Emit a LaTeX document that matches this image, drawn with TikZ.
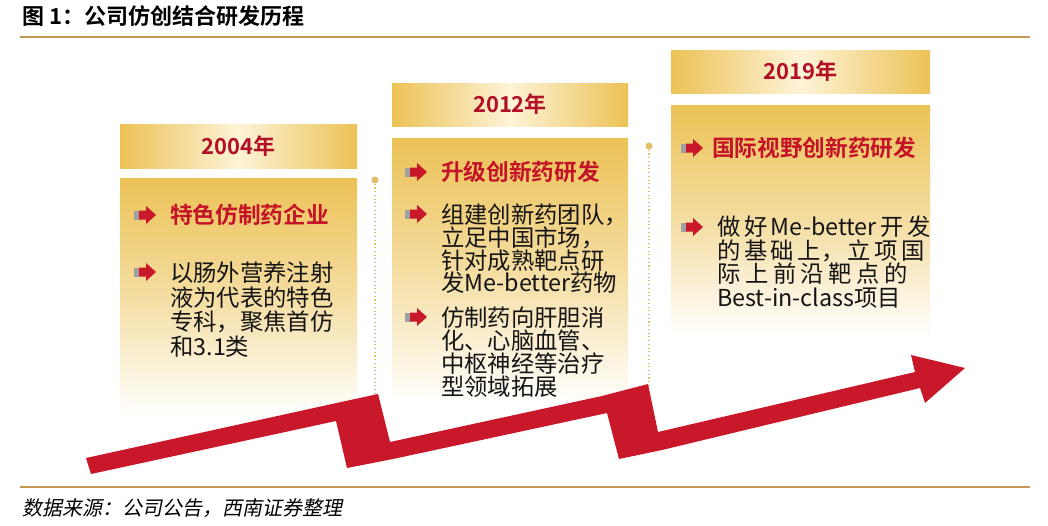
\documentclass[tikz,border=0pt]{standalone}
\usepackage{fontspec}
\newfontfamily\cjk{Noto Sans CJK SC}[BoldFont={Noto Sans CJK SC Bold}]
\newfontfamily\cjkit{Noto Sans CJK SC}[FakeSlant=0.2]
\definecolor{gold}{RGB}{236,194,86}
\definecolor{pale}{RGB}{253,243,214}
\definecolor{rulebrown}{RGB}{196,152,86}
\definecolor{dotgold}{RGB}{228,188,110}
\definecolor{arrowred}{RGB}{200,24,42}
\definecolor{yearred}{RGB}{178,16,40}
\definecolor{headred}{RGB}{196,18,40}
\definecolor{bulgray}{RGB}{160,160,160}

\begin{document}
\begin{tikzpicture}[x=0.75pt,y=-0.75pt,
    yearlbl/.style={font=\cjk\bfseries\fontsize{16.5}{17}\selectfont, text=yearred, inner sep=0},
    headlbl/.style={font=\cjk\bfseries\fontsize{17}{17}\selectfont, text=headred, anchor=base west, inner sep=0},
    body/.style={font=\cjk\fontsize{17.5}{18}\selectfont, text=black!92, anchor=base west, inner sep=0},
    bul/.pic={
        \fill[bulgray] (-12,-4.5) rectangle (-6,4.5);
        \fill[arrowred] (-7,-4.5) -- (0,-4.5) -- (0,-9) -- (10,0) -- (0,9) -- (0,4.5) -- (-7,4.5) -- cycle;
    }]
    \useasboundingbox (0,0) rectangle (1048,525);
    \fill[white] (0,0) rectangle (1048,525);

    % title and rules
    \node[anchor=base west, inner sep=0, font=\cjk\bfseries\fontsize{16.5}{17}\selectfont] (title) at (22,24) {图 1：公司仿创结合研发历程};
    \draw[rulebrown, line width=1.5pt] (20,37) -- (1030,37);
    \draw[rulebrown, line width=1.5pt] (20,487) -- (1030,487);
    \node[anchor=base west, inner sep=0, font=\cjkit\fontsize{15}{15}\selectfont] (source) at (22,515) {数据来源：公司公告，西南证券整理};

    % boxes
    \shade[left color=gold, right color=gold, middle color=pale] (120,124) rectangle (357,168);
    \shade[top color=gold, bottom color=white, middle color=gold!55] (120,178) rectangle (357,415);
    \shade[left color=gold, right color=gold, middle color=pale] (392,83) rectangle (628,126);
    \shade[top color=gold, bottom color=white, middle color=gold!55] (392,138) rectangle (628,405);
    \shade[left color=gold, right color=gold, middle color=pale] (671,50) rectangle (930,93);
    \shade[top color=gold, bottom color=white, middle color=gold!55] (671,105) rectangle (930,338);

    % dotted lines
    \draw[dotgold, dotted, line width=0.8pt] (375,180) -- (375,396);
    \fill[dotgold] (375,180) circle (3.5);
    \draw[dotgold, dotted, line width=0.8pt] (649,146) -- (649,386);
    \fill[dotgold] (649,146) circle (3.5);

    % years
    \node[yearlbl] (y2004) at (238.5,146) {2004年};
    \node[yearlbl] (y2012) at (510,104.5) {2012年};
    \node[yearlbl] (y2019) at (800.5,71.5) {2019年};

    % 2004
    \pic at (146,215) {bul};
    \node[headlbl] (h1) at (170,223.5) {特色仿制药企业};
    \pic at (146,272) {bul};
    \foreach \t [count=\i] in {以肠外营养注射, 液为代表的特色, 专科，聚焦首仿, 和3.1类}
        \node[body] (a\i) at (170,281.5+24.5*\i-24.5) {\t};

    % 2012
    \pic at (417,172) {bul};
    \node[headlbl] (h2) at (441,180.5) {升级创新药研发};
    \pic at (417,214) {bul};
    \foreach \t [count=\i] in {组建创新药团队，, 立足中国市场，, 针对成熟靶点研, 发Me-better药物}
        \node[body] (b\i) at (441,223.5+22.8*\i-22.8) {\t};
    \pic at (417,317) {bul};
    \foreach \t [count=\i] in {仿制药向肝胆消, 化、心脑血管、, 中枢神经等治疗, 型领域拓展}
        \node[body] (c\i) at (441,326+23.3*\i-23.3) {\t};

    % 2019
    \pic at (693,148) {bul};
    \node[headlbl] (h3) at (712,156.5) {国际视野创新药研发};
    \pic at (693,227) {bul};
    \foreach \t [count=\i] in {做 好 Me-better 开 发, 的 基 础 上， 立 项 国, 际 上 前 沿 靶 点 的}
        \node[body] (d\i) at (717,235.5+23.5*\i-23.5) {\makebox[143pt][s]{\t}};
    \node[body] (d4) at (717,306) {Best-in-class项目};

    % zigzag arrow
    \fill[arrowred] (86,458) -- (332,404) -- (378,394) -- (390,442) -- (602,396)
        -- (648,384) -- (658,432) -- (915,372) -- (911,355) -- (965,368)
        -- (925,403) -- (920,388) -- (662,450) -- (619,459) -- (607,413)
        -- (393,459) -- (347,468) -- (336,421) -- (91,474) -- cycle;
\end{tikzpicture}
\end{document}
